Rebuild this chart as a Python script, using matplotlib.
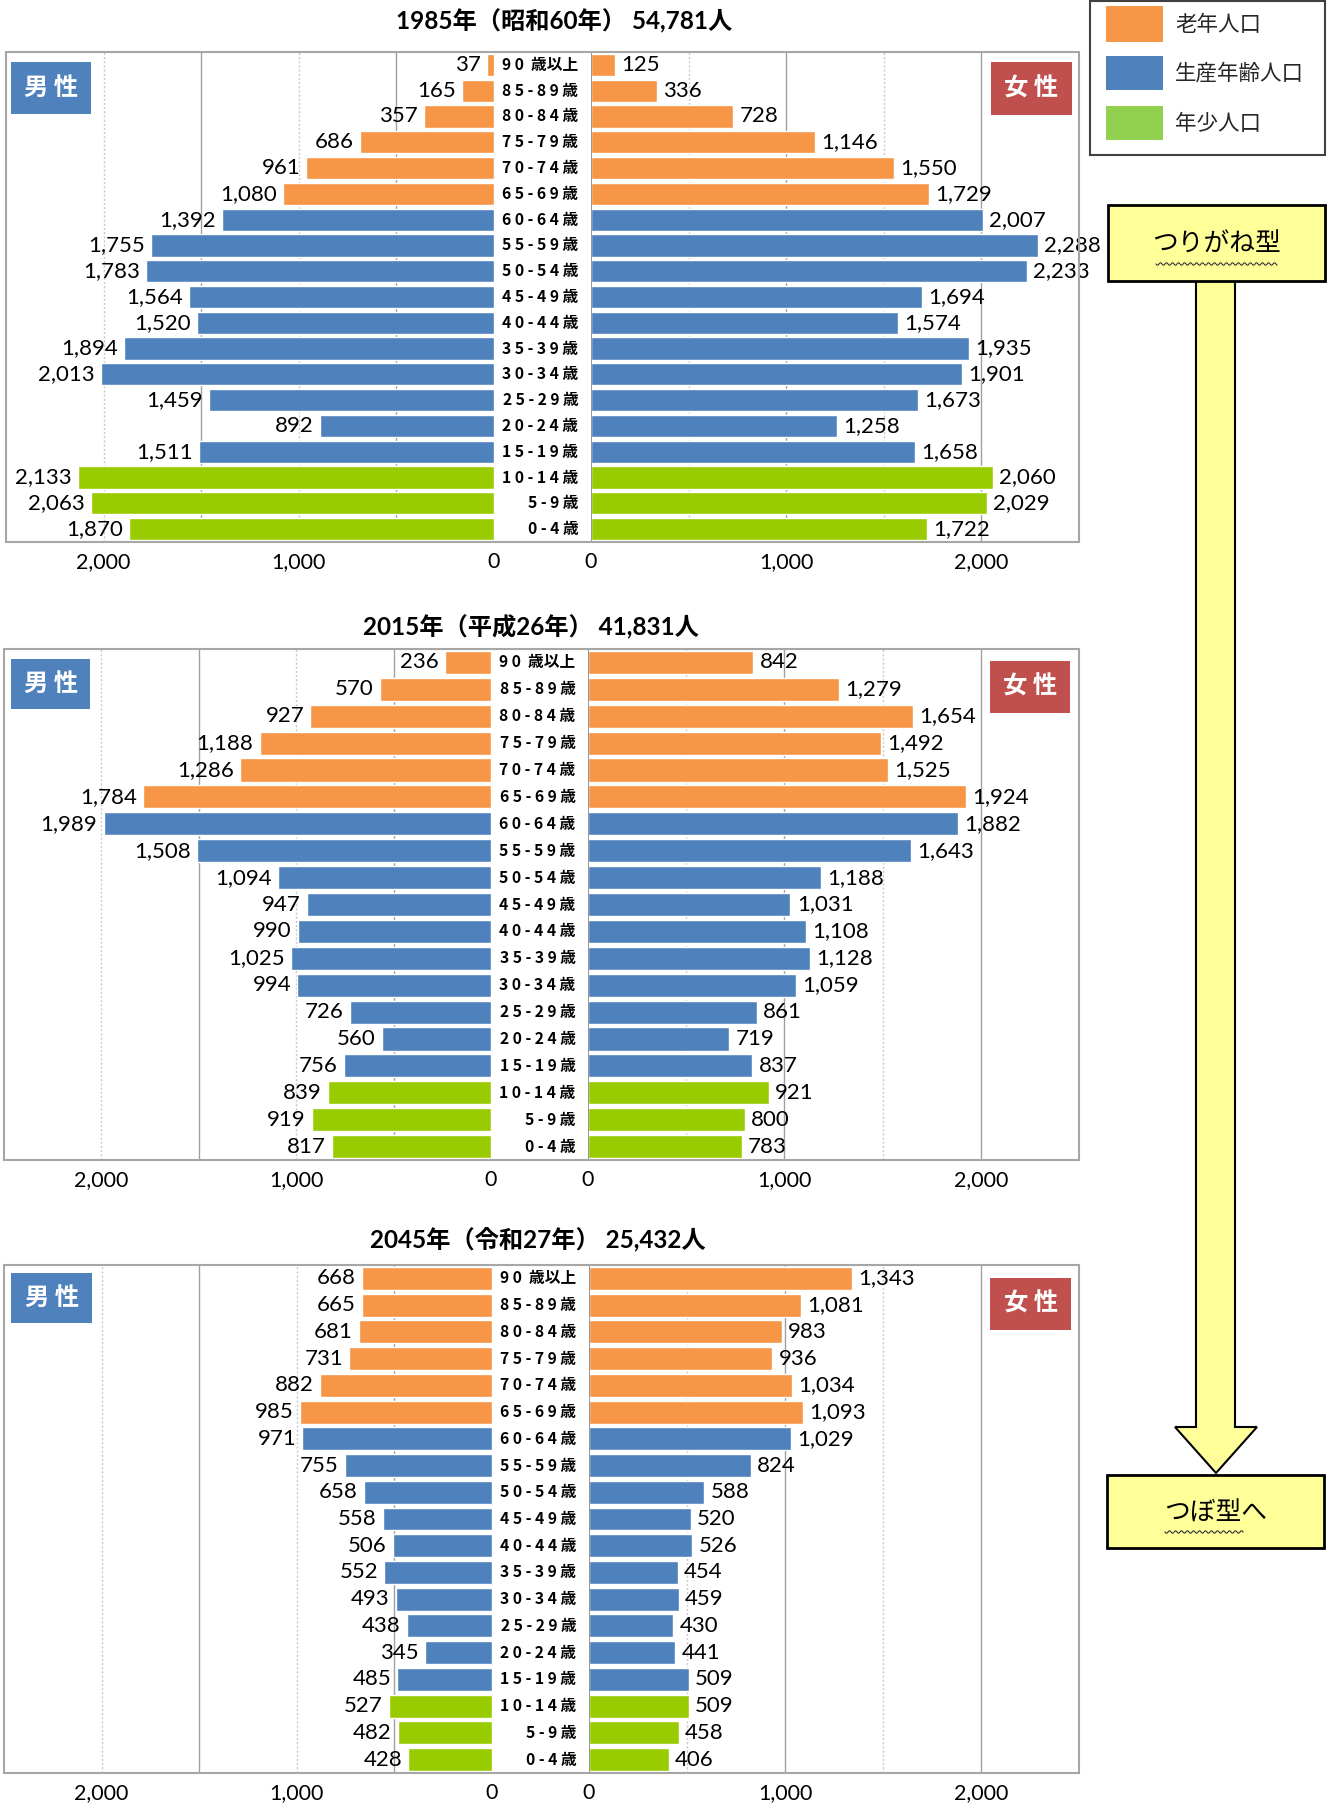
import numpy as np
import matplotlib
matplotlib.use("Agg")
import matplotlib.pyplot as plt
from matplotlib.patches import Rectangle, Polygon
from matplotlib.lines import Line2D

# ---- data -------------------------------------------------------------
age_labels = ["9 0  歳以上", "8 5 - 8 9 歳", "8 0 - 8 4 歳", "7 5 - 7 9 歳",
              "7 0 - 7 4 歳", "6 5 - 6 9 歳", "6 0 - 6 4 歳", "5 5 - 5 9 歳",
              "5 0 - 5 4 歳", "4 5 - 4 9 歳", "4 0 - 4 4 歳", "3 5 - 3 9 歳",
              "3 0 - 3 4 歳", "2 5 - 2 9 歳", "2 0 - 2 4 歳", "1 5 - 1 9 歳",
              "1 0 - 1 4 歳", "5 - 9 歳", "0 - 4 歳"]
age_groups = ["old"] * 6 + ["work"] * 10 + ["young"] * 3

titles = ["1985年（昭和60年） 54,781人",
          "2015年（平成26年） 41,831人",
          "2045年（令和27年） 25,432人"]

male_1985 = [37, 165, 357, 686, 961, 1080, 1392, 1755, 1783, 1564, 1520,
             1894, 2013, 1459, 892, 1511, 2133, 2063, 1870]
female_1985 = [125, 336, 728, 1146, 1550, 1729, 2007, 2288, 2233, 1694, 1574,
               1935, 1901, 1673, 1258, 1658, 2060, 2029, 1722]
male_2015 = [236, 570, 927, 1188, 1286, 1784, 1989, 1508, 1094, 947, 990,
             1025, 994, 726, 560, 756, 839, 919, 817]
female_2015 = [842, 1279, 1654, 1492, 1525, 1924, 1882, 1643, 1188, 1031, 1108,
               1128, 1059, 861, 719, 837, 921, 800, 783]
male_2045 = [668, 665, 681, 731, 882, 985, 971, 755, 658, 558, 506,
             552, 493, 438, 345, 485, 527, 482, 428]
female_2045 = [1343, 1081, 983, 936, 1034, 1093, 1029, 824, 588, 520, 526,
               454, 459, 430, 441, 509, 509, 458, 406]

legend_labels = ["老年人口", "生産年齢人口", "年少人口"]
x_ticks = [0, 1000, 2000]
x_tick_labels = ["0", "1,000", "2,000"]

# ---- style ------------------------------------------------------------
bar_colors = {"old": "#F79646", "work": "#4F81BD", "young": "#99CC00"}
legend_colors = ["#F79646", "#4F81BD", "#92D050"]
CJK = ["Noto Sans CJK JP", "DejaVu Sans"]
NUM = ["Lato", "Noto Sans CJK JP", "DejaVu Sans"]
plt.rcParams["font.family"] = CJK

W, H = 1332, 1804
fig = plt.figure(figsize=(W / 100, H / 100), dpi=100)


def fx(x):
    return x / W


def fy(y):
    return 1 - y / H


def rect(x0, y0, x1, y1):
    return [fx(x0), fy(y1), (x1 - x0) / W, (y1 - y0) / H]


# pixel layout of the three pyramids
panels = [
    dict(title_x=564, title_y=21, left=6, mzero=494, fzero=591, right=1079,
         top=52, bottom=542, mbox=(11, 62, 91, 114), fbox=(991, 62, 1072, 115)),
    dict(title_x=531, title_y=627, left=4, mzero=491, fzero=588, right=1079,
         top=649, bottom=1160, mbox=(11, 659, 90, 709), fbox=(990, 661, 1070, 713)),
    dict(title_x=538, title_y=1239, left=4, mzero=492, fzero=589, right=1079,
         top=1265, bottom=1773, mbox=(11, 1273, 92, 1323), fbox=(990, 1278, 1071, 1330)),
]
data = [(male_1985, female_1985), (male_2015, female_2015), (male_2045, female_2045)]

XMAX = 2500
n = len(age_labels)
ypos = np.arange(n)
colors = [bar_colors[g] for g in age_groups]

solid_c = "#A0A0A0"
dot_c = "#C8C8C8"

for p, (male, female), title in zip(panels, data, titles):
    ax_m = fig.add_axes(rect(p["left"], p["top"], p["mzero"], p["bottom"]))
    ax_f = fig.add_axes(rect(p["fzero"], p["top"], p["right"], p["bottom"]))

    for ax in (ax_m, ax_f):
        ax.set_ylim(n - 0.5, -0.5)
        ax.set_yticks([])
        for s in ax.spines.values():
            s.set_visible(False)
        ax.set_xticks(x_ticks)
        ax.set_xticklabels(x_tick_labels, fontsize=15.5, family=NUM, color="#000000")
        ax.tick_params(axis="x", length=0, pad=7)
        ax.patch.set_alpha(0)

    ax_m.set_xlim(XMAX, 0)
    ax_f.set_xlim(0, XMAX)

    # vertical grid lines
    for v in (500, 1500):
        ax_m.axvline(v, color=solid_c, lw=1.0, zorder=0)
        ax_f.axvline(v, color=dot_c, lw=1.0, ls=(0, (1.5, 1.5)), zorder=0)
    for v in (1000, 2000):
        ax_m.axvline(v, color=dot_c, lw=1.0, ls=(0, (1.5, 1.5)), zorder=0)
        ax_f.axvline(v, color=solid_c, lw=1.0, zorder=0)
    ax_f.axvline(0, color="#8C8C8C", lw=1.3, zorder=3)

    ax_m.barh(ypos, male, height=0.86, color=colors, edgecolor="white", lw=1.0, zorder=2)
    ax_f.barh(ypos, female, height=0.86, color=colors, edgecolor="white", lw=1.0, zorder=2)

    for i, v in enumerate(male):
        ax_m.annotate(f"{v:,}", xy=(v, i), xytext=(-4.5, 0), textcoords="offset points",
                      ha="right", va="center", fontsize=16, family=NUM,
                      color="#000000", zorder=4, annotation_clip=False)
    for i, v in enumerate(female):
        ax_f.annotate(f"{v:,}", xy=(v, i), xytext=(4.5, 0), textcoords="offset points",
                      ha="left", va="center", fontsize=16, family=NUM,
                      color="#000000", zorder=4, annotation_clip=False)
    for i, lab in enumerate(age_labels):
        ax_f.annotate(lab, xy=(0, i), xytext=(-9, 0), textcoords="offset points",
                      ha="right", va="center", fontsize=11.3, fontweight="bold",
                      color="#000000", annotation_clip=False)

    # outer frame
    fig.patches.append(Rectangle((fx(p["left"]), fy(p["bottom"])),
                                 (p["right"] - p["left"]) / W,
                                 (p["bottom"] - p["top"]) / H,
                                 transform=fig.transFigure, fill=False,
                                 edgecolor="#A6A6A6", lw=1.5, zorder=5))

    fig.text(fx(p["title_x"]), fy(p["title_y"]), title, ha="center", va="center",
             fontsize=17.5, fontweight="bold", family=NUM, color="#000000")

    for box, txt, fc in ((p["mbox"], "男 性", "#4F81BD"), (p["fbox"], "女 性", "#C0504D")):
        x0, y0, x1, y1 = box
        fig.patches.append(Rectangle((fx(x0), fy(y1)), (x1 - x0) / W, (y1 - y0) / H,
                                     transform=fig.transFigure, facecolor=fc,
                                     edgecolor="none", zorder=6))
        fig.text(fx((x0 + x1) / 2), fy((y0 + y1) / 2), txt, ha="center", va="center",
                 fontsize=17.5, fontweight="bold", color="white", zorder=7)

# ---- legend -----------------------------------------------------------
fig.patches.append(Rectangle((fx(1090), fy(155)), (1325 - 1090) / W, (155 - 1) / H,
                             transform=fig.transFigure, facecolor="white",
                             edgecolor="#404040", lw=1.5, zorder=5))
for (y0, y1), lab, c in zip([(6, 42), (56, 90), (106, 140)], legend_labels, legend_colors):
    fig.patches.append(Rectangle((fx(1106), fy(y1)), 57 / W, (y1 - y0) / H,
                                 transform=fig.transFigure, facecolor=c,
                                 edgecolor="none", zorder=6))
    fig.text(fx(1175), fy((y0 + y1) / 2 + 1), lab, ha="left", va="center",
             fontsize=15.5, color="#262626", zorder=7)

# ---- shape annotation boxes and arrow ---------------------------------
yellow = "#FFFF99"
arrow_pts = [(1196, 281), (1235, 281), (1235, 1427), (1257, 1427), (1216, 1473),
             (1175, 1427), (1196, 1427)]
fig.patches.append(Polygon([(fx(x), fy(y)) for x, y in arrow_pts], closed=True,
                           transform=fig.transFigure, facecolor=yellow,
                           edgecolor="#000000", lw=1.5, zorder=5))

for (x0, y0, x1, y1), txt, (ux0, ux1, uy), ty in (
        ((1108, 205, 1325, 281), "つりがね型", (1156, 1277, 264), 245),
        ((1107, 1475, 1324, 1548), "つぼ型へ", (1165, 1243, 1532), 1514)):
    fig.patches.append(Rectangle((fx(x0), fy(y1)), (x1 - x0) / W, (y1 - y0) / H,
                                 transform=fig.transFigure, facecolor=yellow,
                                 edgecolor="#000000", lw=2.0, zorder=6))
    fig.text(fx(1216), fy(ty), txt, ha="center", va="center", fontsize=18.5,
             color="#000000", zorder=7)
    # wavy underline
    xs = np.linspace(ux0, ux1, 200)
    ys = uy + 1.2 * np.sin((xs - ux0) / 3.0 * np.pi)
    fig.lines.append(Line2D(fx(xs), fy(ys), transform=fig.transFigure,
                            color="#333333", lw=0.8, zorder=8))

fig.savefig("out.png", dpi=100)
